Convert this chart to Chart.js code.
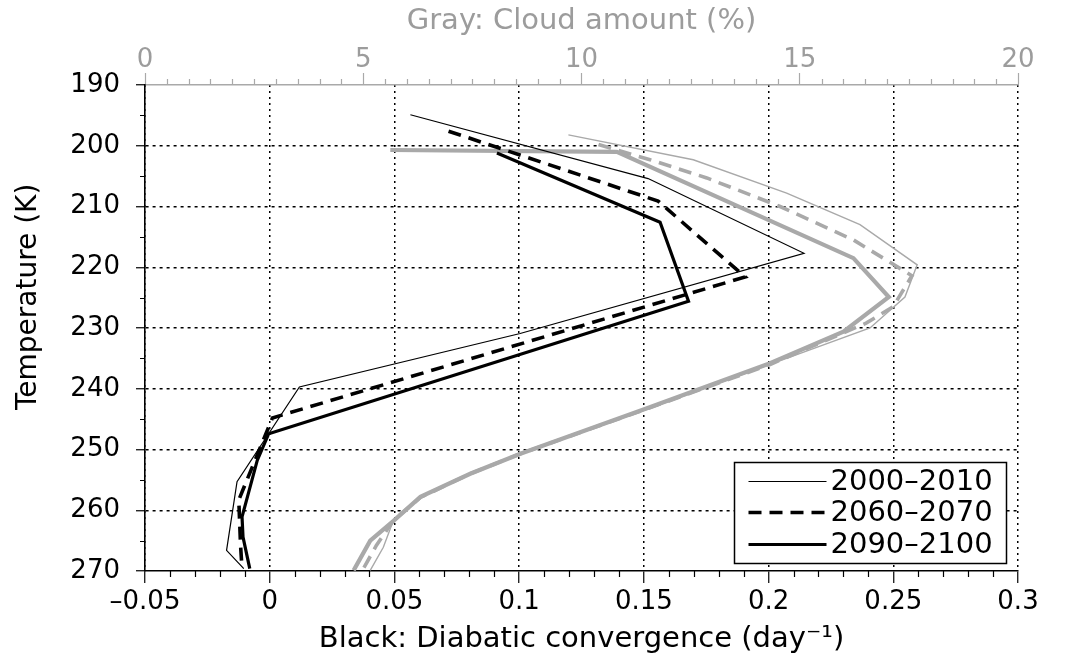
<!DOCTYPE html>
<html><head><meta charset="utf-8">
<script src="https://cdn.jsdelivr.net/npm/chart.js@4.4.0/dist/chart.umd.min.js"></script>
<style>html,body{margin:0;padding:0;background:#fff;}</style>
</head><body>
<canvas id="c" width="1069" height="659"></canvas>
<script>
// ---- data ----
const seriesLabels = ['2000\u20132010', '2060\u20132070', '2090\u20132100'];
// Black: diabatic convergence (day^-1) against temperature (K)
const conv2000Temp = [194.9, 205.4, 217.7, 230.9, 239.7, 255.3, 266.6, 269.6];
const conv2000     = [0.0564, 0.1517, 0.2142, 0.1004, 0.0119, -0.0131, -0.0173, -0.0104];
const conv2060Temp = [197.6, 209.1, 221.6, 244.8, 258.3, 265.7, 269.6];
const conv2060     = [0.0717, 0.1557, 0.1906, 0.0011, -0.0124, -0.0117, -0.0111];
const conv2090Temp = [201.2, 212.6, 225.6, 247.4, 251.8, 261.1, 264.4, 269.6];
const conv2090     = [0.0911, 0.1565, 0.1679, -0.0004, -0.0050, -0.0111, -0.0107, -0.0080];
// Gray: cloud amount (%) against temperature (K)
const cloud2000Temp = [198.2, 202.3, 207.8, 213.0, 219.6, 224.9, 230.0, 236.0, 243.4, 250.8, 254.1, 257.9, 261.7, 266.1, 269.9];
const cloud2000     = [9.70, 12.56, 14.70, 16.38, 17.69, 17.41, 16.61, 14.32, 11.5, 8.6, 7.45, 6.31, 5.69, 5.46, 5.16];
const cloud2060Temp = [199.8, 202.3, 205.3, 210.0, 215.5, 221.4, 226.5, 229.2, 236.0, 243.3, 250.7, 254.0, 257.9, 261.7, 265.8, 269.9];
const cloud2060     = [10.39, 11.57, 12.87, 14.55, 16.23, 17.57, 17.14, 16.52, 14.32, 11.5, 8.6, 7.45, 6.31, 5.69, 5.3, 4.98];
const cloud2090Temp = [200.7, 201.0, 218.5, 224.9, 230.6, 235.8, 243.2, 250.7, 254.0, 257.8, 261.7, 265.0, 269.9];
const cloud2090     = [5.62, 10.81, 16.23, 17.04, 16.0, 14.32, 11.5, 8.6, 7.45, 6.31, 5.70, 5.16, 4.78];
// tick labels
const convTicks  = [-0.05, 0, 0.05, 0.1, 0.15, 0.2, 0.25, 0.3];
const cloudTicks = [0, 5, 10, 15, 20];
const tempTicks  = [190, 200, 210, 220, 230, 240, 250, 260, 270];

// ---- styling ----
const FONT = 'DejaVu Sans';
const GRAY = '#a9a9a9';
const GRAY_TEXT = '#9c9c9c';

function pts(xs, ts) { return xs.map((v, i) => ({ x: v, y: ts[i] })); }
function fmtConv(v) {
  const r = Math.round(v * 100) / 100;
  return r < 0 ? '\u2013' + String(-r) : String(r);
}

const datasets = [
  { label: seriesLabels[0], data: pts(conv2000, conv2000Temp), xAxisID: 'x', borderColor: '#000', borderWidth: 1.2, borderDash: [] },
  { label: seriesLabels[1], data: pts(conv2060, conv2060Temp), xAxisID: 'x', borderColor: '#000', borderWidth: 3.6, borderDash: [13, 8] },
  { label: seriesLabels[2], data: pts(conv2090, conv2090Temp), xAxisID: 'x', borderColor: '#000', borderWidth: 3.2, borderDash: [] },
  { label: 'cloud ' + seriesLabels[0], data: pts(cloud2000, cloud2000Temp), xAxisID: 'x2', borderColor: GRAY, borderWidth: 1.4, borderDash: [] },
  { label: 'cloud ' + seriesLabels[1], data: pts(cloud2060, cloud2060Temp), xAxisID: 'x2', borderColor: GRAY, borderWidth: 3.6, borderDash: [13, 8] },
  { label: 'cloud ' + seriesLabels[2], data: pts(cloud2090, cloud2090Temp), xAxisID: 'x2', borderColor: GRAY, borderWidth: 4.2, borderDash: [] }
].map(d => Object.assign(d, { showLine: true, fill: false, pointRadius: 0, tension: 0, yAxisID: 'y' }));

// minor tick marks, positioned through the chart's scales
const minorTicks = {
  id: 'minorTicks',
  afterDraw(chart) {
    const ctx = chart.ctx, a = chart.chartArea;
    const sx = chart.scales.x, sx2 = chart.scales.x2, sy = chart.scales.y;
    ctx.save();
    ctx.lineWidth = 1.2;
    ctx.strokeStyle = '#000';
    ctx.beginPath();
    for (let i = -5; i <= 30; i++) {
      if (i % 5 === 0) continue;
      const px = Math.round(sx.getPixelForValue(i / 100)) + 0.5;
      ctx.moveTo(px, a.bottom); ctx.lineTo(px, a.bottom + 6);
    }
    for (let t = 195; t < 270; t += 10) {
      const py = Math.round(sy.getPixelForValue(t)) + 0.5;
      ctx.moveTo(a.left, py); ctx.lineTo(a.left - 5, py);
    }
    ctx.stroke();
    ctx.strokeStyle = GRAY;
    ctx.beginPath();
    for (let i = 1; i < 40; i++) {
      if (i % 10 === 0) continue;
      const px = Math.round(sx2.getPixelForValue(i / 2)) + 0.5;
      ctx.moveTo(px, a.top); ctx.lineTo(px, a.top - 6);
    }
    ctx.stroke();
    ctx.restore();
  }
};

// boxed legend in the lower right of the plot area (black series only)
const boxedLegend = {
  id: 'boxedLegend',
  afterDraw(chart) {
    const ctx = chart.ctx, a = chart.chartArea;
    const left = Math.round(a.right - 284) + 0.5, right = Math.round(a.right - 12) + 0.5;
    const top = Math.round(a.bottom - 109) + 0.5, bottom = Math.round(a.bottom - 8) + 0.5;
    ctx.save();
    ctx.fillStyle = '#fff';
    ctx.fillRect(left, top, right - left, bottom - top);
    ctx.lineWidth = 1.5;
    ctx.strokeStyle = '#000';
    ctx.strokeRect(left, top, right - left, bottom - top);
    ctx.font = '29px "' + FONT + '"';
    ctx.textBaseline = 'middle';
    ctx.textAlign = 'left';
    for (let i = 0; i < 3; i++) {
      const ds = chart.data.datasets[i];
      const y = Math.round(top + 18 + i * 31.7) + 0.5;
      ctx.beginPath();
      ctx.setLineDash(ds.borderDash || []);
      ctx.lineWidth = ds.borderWidth < 2 ? 1 : ds.borderWidth;
      ctx.strokeStyle = ds.borderColor;
      ctx.moveTo(left + 14, y); ctx.lineTo(left + 92, y);
      ctx.stroke();
      ctx.setLineDash([]);
      ctx.fillStyle = '#000';
      ctx.fillText(ds.label, left + 96, y + 1);
    }
    ctx.restore();
  }
};

new Chart(document.getElementById('c'), {
  type: 'scatter',
  data: { datasets },
  plugins: [minorTicks, boxedLegend],
  options: {
    responsive: false,
    animation: false,
    devicePixelRatio: 1,
    layout: { padding: { left: 0, right: 51, top: 0, bottom: 0 } },
    plugins: { legend: { display: false }, tooltip: { enabled: false } },
    scales: {
      x: {
        type: 'linear', position: 'bottom', min: -0.05, max: 0.3,
        afterBuildTicks: s => { s.ticks = convTicks.map(v => ({ value: v })); },
        afterFit: s => { s.height = 88; },
        ticks: { autoSkip: false, maxRotation: 0, color: '#000', padding: 6,
                 font: { family: FONT, size: 26, lineHeight: 1 }, callback: v => fmtConv(v) },
        grid: { color: '#000', lineWidth: 1.5, tickLength: 12, tickColor: '#000', tickWidth: 1.2 },
        border: { display: true, color: '#000', width: 1.6, dash: [2, 4] },
        title: { display: true, text: 'Black: Diabatic convergence (day\u207B\u00B9)', color: '#000',
                 font: { family: FONT, size: 29 }, padding: { top: 0, bottom: 2 } }
      },
      x2: {
        type: 'linear', position: 'top', min: 0, max: 20,
        afterBuildTicks: s => { s.ticks = cloudTicks.map(v => ({ value: v })); },
        afterFit: s => { s.height = 85; },
        ticks: { autoSkip: false, maxRotation: 0, color: GRAY_TEXT, padding: 0,
                 font: { family: FONT, size: 26, lineHeight: 1 } },
        grid: { drawOnChartArea: false, color: GRAY, tickLength: 12, tickColor: GRAY, tickWidth: 1.2 },
        border: { display: true, color: GRAY, width: 1.6 },
        title: { display: true, text: 'Gray: Cloud amount (%)', color: GRAY_TEXT,
                 font: { family: FONT, size: 29 }, padding: { top: 4, bottom: 0 } }
      },
      y: {
        type: 'linear', position: 'left', reverse: true, min: 190, max: 270,
        afterBuildTicks: s => { s.ticks = tempTicks.map(v => ({ value: v })); },
        afterFit: s => { s.width = 145; },
        ticks: { autoSkip: false, color: '#000', padding: 16,
                 font: { family: FONT, size: 26, lineHeight: 1 } },
        grid: { color: c => (c.tick && (c.tick.value === 190 || c.tick.value === 270)) ? 'rgba(0,0,0,0)' : '#000',
                lineWidth: 1.5, tickLength: 9, tickColor: '#000', tickWidth: 1.2 },
        border: { display: true, color: '#000', width: 1.6, dash: [3, 4] },
        title: { display: true, text: '       Temperature (K)', color: '#000',
                 font: { family: FONT, size: 28 }, padding: { top: 12, bottom: 0 } }
      }
    }
  }
});
</script>
</body></html>
